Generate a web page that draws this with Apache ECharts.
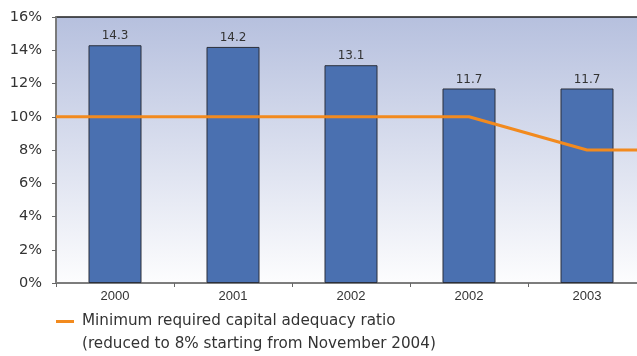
<!DOCTYPE html>
<html>
<head>
<meta charset="utf-8">
<script src="https://cdn.jsdelivr.net/npm/echarts@6/dist/echarts.min.js"></script>
<style>
  html, body { margin: 0; padding: 0; background: #ffffff; }
  #chart { width: 637px; height: 356px; }
</style>
</head>
<body>
<div id="chart"></div>
<script>
// Capital adequacy ratio by year (percent)
const years = ['2000', '2001', '2002', '2002', '2003'];
const ratioValues = [14.3, 14.2, 13.1, 11.7, 11.7];

// Regulatory minimum, positioned on a continuous 0..5 scale spanning the category bands
const minimumX = [0, 3.5, 4.5, 5];
const minimumY = [10, 10, 8, 8];

const yTicks = { min: 0, max: 16, interval: 2 };
const legendLine1 = 'Minimum required capital adequacy ratio';
const legendLine2 = '(reduced to 8% starting from November 2004)';

const font = '"DejaVu Sans", sans-serif';
const axisFont = '"Liberation Sans", Arial, sans-serif';

const chart = echarts.init(document.getElementById('chart'), null, { renderer: 'canvas' });

chart.setOption({
  animation: false,
  grid: {
    left: 56, width: 590, top: 17, bottom: 73,
    outerBoundsMode: 'none',
    containLabel: false,
    show: true,
    borderWidth: 1.5,
    borderColor: '#1f1f1f',
    backgroundColor: {
      type: 'linear', x: 0, y: 0, x2: 0, y2: 1,
      colorStops: [
        { offset: 0, color: '#b6c0de' },
        { offset: 1, color: '#fdfdfe' }
      ]
    }
  },
  legend: {
    left: 56, top: 314,
    padding: 0,
    itemWidth: 18, itemHeight: 3,
    icon: 'rect',
    data: [{ name: legendLine1 }],
    textStyle: { fontFamily: font, fontSize: 15.2, color: '#333333', padding: [0, 0, 0, 3] }
  },
  graphic: [{
    type: 'text',
    left: 82, top: 337,
    style: { text: legendLine2, font: '15.2px ' + font, fill: '#333333' }
  }],
  xAxis: [
    {
      type: 'category',
      data: years,
      position: 'bottom',
      axisLine: { onZero: false, lineStyle: { color: '#8a8a8a', width: 1.5 } },
      axisTick: { show: true, alignWithLabel: false, length: 4, lineStyle: { color: '#666' } },
      axisLabel: { fontFamily: axisFont, fontSize: 13, color: '#333333', margin: 7 }
    },
    {
      // continuous scale across the plot for the minimum-ratio line
      type: 'value',
      min: 0, max: 5,
      position: 'top',
      show: false
    }
  ],
  yAxis: {
    type: 'value',
    min: yTicks.min, max: yTicks.max, interval: yTicks.interval,
    axisLine: { show: true, onZero: false, lineStyle: { color: '#8a8a8a', width: 1.5 } },
    axisTick: { show: true, length: 4, lineStyle: { color: '#666' } },
    splitLine: { show: false },
    axisLabel: {
      fontFamily: font, fontSize: 14.5, color: '#333333', margin: 14,
      formatter: v => v + '%'
    }
  },
  series: [
    {
      type: 'bar',
      xAxisIndex: 0,
      data: ratioValues,
      barWidth: 53,
      itemStyle: { color: '#4a70b0', borderColor: '#2b2f3a', borderWidth: 1 },
      label: {
        show: true, position: 'top', distance: 3,
        fontFamily: font, fontSize: 12, color: '#333333',
        formatter: p => p.value.toFixed(1)
      },
      z: 2
    },
    {
      name: legendLine1,
      type: 'line',
      xAxisIndex: 1,
      data: minimumX.map((x, i) => [x, minimumY[i]]),
      symbol: 'none',
      lineStyle: { color: '#f28a1e', width: 3 },
      itemStyle: { color: '#f28a1e' },
      z: 3
    }
  ]
});
</script>
</body>
</html>
